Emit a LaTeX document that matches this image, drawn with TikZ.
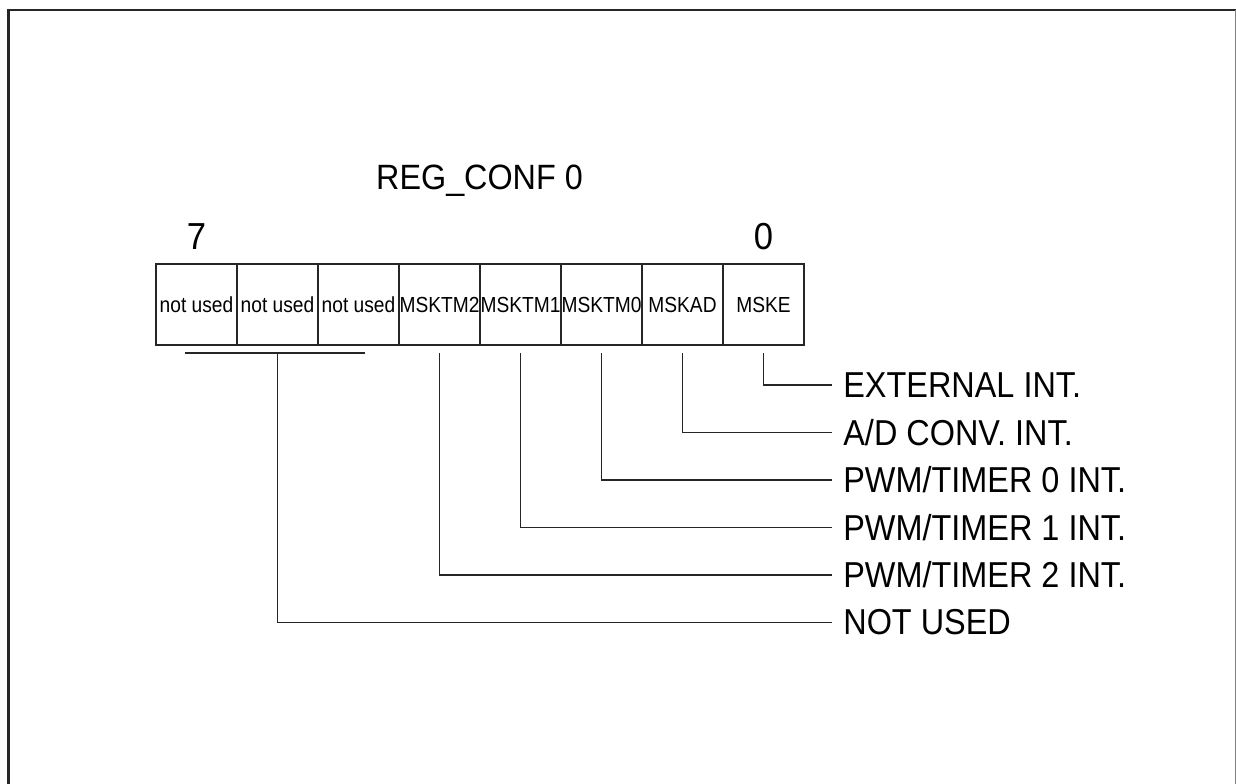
\documentclass[tikz,border=0pt]{standalone}
\usepackage{fontspec}
\setmainfont{Liberation Sans}[FakeStretch=0.92]
\newfontfamily\narrowsf{Liberation Sans}[FakeStretch=0.9]
\newfontfamily\cellsf{Liberation Sans}[FakeStretch=0.88]
\usetikzlibrary{positioning}

\begin{document}
\begin{tikzpicture}[>=stealth,scale=1.0,
                cell/.style={draw=black!85,line width=0.75pt,minimum width=1.62cm,minimum height=1.62cm,
                             inner sep=0pt,outer sep=0pt,font=\cellsf\fontsize{12.4}{14}\selectfont},
                bitno/.style={inner sep=0pt,font=\fontsize{21.4}{24}\selectfont},
                intname/.style={anchor=west,inner xsep=0.22cm,inner ysep=0pt,
                                font=\narrowsf\fontsize{20.5}{24}\selectfont},
                wire/.style={draw=black!85,line width=0.75pt}]
                \useasboundingbox (0,0) rectangle (24.72,15.66);
                \draw[black!85,line width=1.5pt] (0.17,-0.2)--(0.17,15.46)--(24.71,15.46);
                \draw[black!50,line width=0.5pt] (24.71,15.46)--(24.71,-0.2);
                \node[anchor=base,font=\fontsize{20}{24}\selectfont] (reg) at (9.59,11.88) {REG\_CONF 0};
                \node[cell] (b7) at (3.93,9.57) {not used};
                \node[cell,right=0cm of b7] (b6) {not used};
                \node[cell,right=0cm of b6] (b5) {not used};
                \node[cell,right=0cm of b5] (b4) {MSKTM2};
                \node[cell,right=0cm of b4] (b3) {MSKTM1};
                \node[cell,right=0cm of b3] (b2) {MSKTM0};
                \node[cell,right=0cm of b2] (b1) {MSKAD};
                \node[cell,right=0cm of b1] (b0) {MSKE};
                \node[bitno,above=0.28cm of b7] (hi) {7};
                \node[bitno,above=0.28cm of b0] (lo) {0};
                \node[intname] (ext) at (16.64,7.96) {EXTERNAL INT.};
                \node[intname] (adc) at (16.64,7.01) {A/D CONV. INT.};
                \node[intname] (pwm0) at (16.64,6.06) {PWM/TIMER 0 INT.};
                \node[intname] (pwm1) at (16.64,5.11) {PWM/TIMER 1 INT.};
                \node[intname] (pwm2) at (16.64,4.16) {PWM/TIMER 2 INT.};
                \node[intname] (nused) at (16.64,3.21) {NOT USED};
                \draw[wire] ([yshift=-0.16cm]b0.south) |- (ext.west);
                \draw[wire] ([yshift=-0.16cm]b1.south) |- (adc.west);
                \draw[wire] ([yshift=-0.16cm]b2.south) |- (pwm0.west);
                \draw[wire] ([yshift=-0.16cm]b3.south) |- (pwm1.west);
                \draw[wire] ([yshift=-0.16cm]b4.south) |- (pwm2.west);
                \coordinate (nu) at ([yshift=-0.16cm]b6.south);
                \draw[wire] ([xshift=-1.85cm]nu)--([xshift=1.75cm]nu);
                \draw[wire] (nu) |- (nused.west);
            \end{tikzpicture}
\end{document}
